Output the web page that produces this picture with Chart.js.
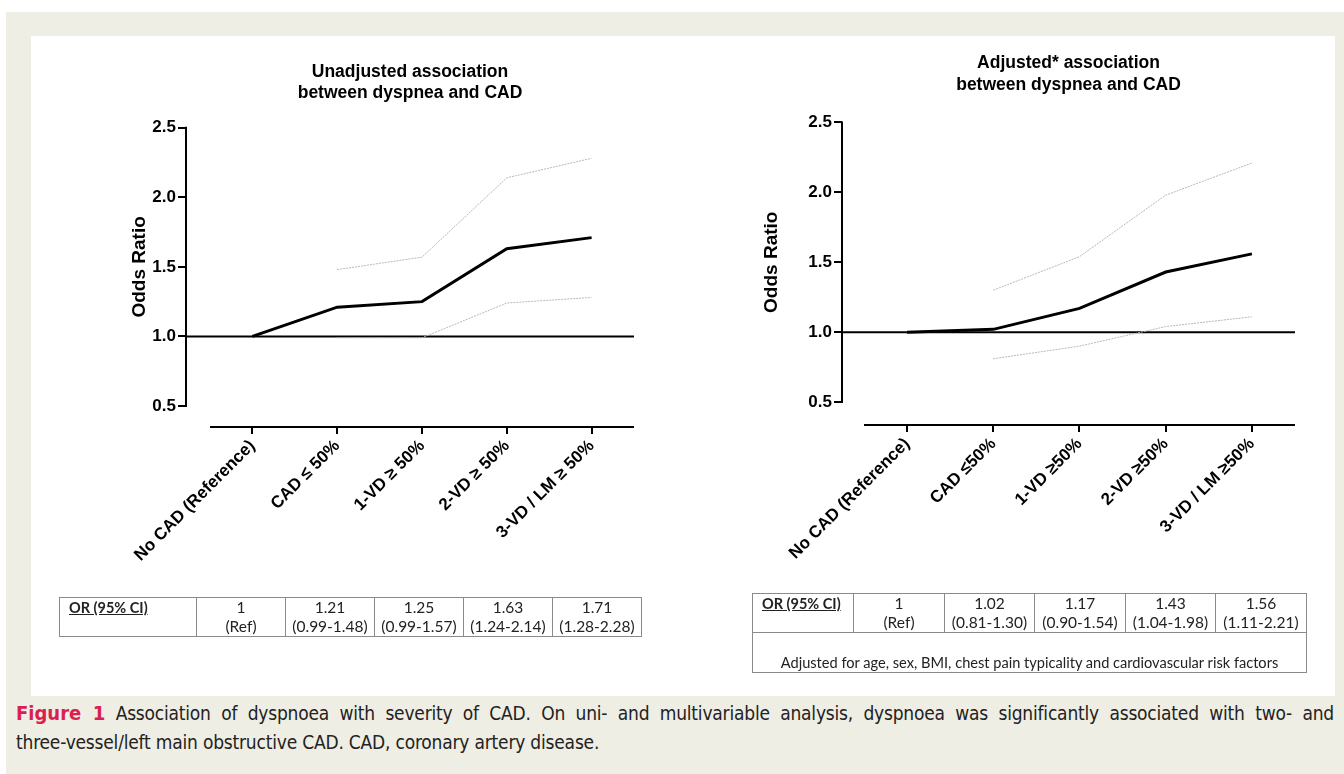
<!DOCTYPE html>
<html>
<head>
<meta charset="utf-8">
<script src="https://cdn.jsdelivr.net/npm/chart.js@4.4.1/dist/chart.umd.min.js"></script>
<style>
  html, body { margin: 0; padding: 0; background: #fff; }
  body { position: relative; width: 1344px; height: 774px; overflow: hidden; }
  .frame { position: absolute; left: 6px; top: 12px; width: 1338px; height: 762px; background: #efeee4; }
  .panel { position: absolute; left: 31px; top: 36px; width: 1304px; height: 660px; background: #fff; }
  canvas { position: absolute; }
  table.or {
    position: absolute; border-collapse: collapse; table-layout: fixed;
    font-family: Lato, "Open Sans", sans-serif; font-size: 15.5px; color: #222;
  }
  table.or td { border: 1px solid #8a8a8a; padding: 0; text-align: center; line-height: 19px; vertical-align: top; }
  table.or td.head { text-align: left; padding-left: 9px; font-weight: bold; text-decoration: underline; font-size: 14.5px; }
  table.or td.note { text-align: center; vertical-align: bottom; height: 39px; font-size: 14.6px; }
  .caption {
    position: absolute; left: 16px; top: 699px; width: 1318px;
    font-family: "Liberation Sans Narrow", "DejaVu Sans Condensed", "Open Sans", sans-serif;
    font-size: 19px; line-height: 29px; color: #222; white-space: nowrap; letter-spacing: -0.2px;
  }
  .caption .l1 { text-align: justify; text-align-last: justify; }
  .caption .fig { color: #d9214f; font-weight: bold; font-size: 20px; letter-spacing: 0; }
</style>
</head>
<body>
<div class="frame"></div>
<div class="panel"></div>
<canvas id="cUnadj" width="620" height="560" style="left:40px;top:40px"></canvas>
<canvas id="cAdj" width="630" height="570" style="left:700px;top:30px"></canvas>
<table class="or" id="tUnadj" style="left:59px;top:597px"></table>
<table class="or" id="tAdj" style="left:752px;top:593px"></table>
<div class="caption">
  <div class="l1"><span class="fig">Figure 1</span> Association of dyspnoea with severity of CAD. On uni- and multivariable analysis, dyspnoea was significantly associated with two- and</div>
  <div>three-vessel/left main obstructive CAD. CAD, coronary artery disease.</div>
</div>

<script>
// ── Dados ──────────────────────────────────────────────────────
const CATS_UNADJ = ['No CAD (Reference)', 'CAD \u2264 50%', '1-VD \u2265 50%', '2-VD \u2265 50%', '3-VD / LM \u2265 50%'];
const OR_UNADJ   = [1, 1.21, 1.25, 1.63, 1.71];
const LOW_UNADJ  = [null, 0.99, 0.99, 1.24, 1.28];
const HIGH_UNADJ = [null, 1.48, 1.57, 2.14, 2.28];

const CATS_ADJ = ['No CAD (Reference)', 'CAD \u226450%', '1-VD \u226550%', '2-VD \u226550%', '3-VD / LM \u226550%'];
const OR_ADJ   = [1, 1.02, 1.17, 1.43, 1.56];
const LOW_ADJ  = [null, 0.81, 0.90, 1.04, 1.11];
const HIGH_ADJ = [null, 1.30, 1.54, 1.98, 2.21];

const Y_TICKS = [0.5, 1.0, 1.5, 2.0, 2.5];
const REF_OR = 1;
const ADJ_NOTE = 'Adjusted for age, sex, BMI, chest pain typicality and cardiovascular risk factors';

Chart.defaults.font.family = '"Liberation Sans", Arial, sans-serif';
Chart.defaults.color = '#000';

// GraphPad-style axes: detached y/x axis lines, reference line, y title
const gpAxes = {
  id: 'gpAxes',
  beforeDatasetsDraw(chart, args, opts) {
    const { ctx, chartArea: a, scales: { x, y } } = chart;
    const n = opts.count;
    ctx.save();
    ctx.strokeStyle = '#000';
    ctx.lineWidth = 2;
    ctx.beginPath();
    ctx.moveTo(a.left, y.getPixelForValue(Y_TICKS[0]) + 1);
    ctx.lineTo(a.left, y.getPixelForValue(Y_TICKS[Y_TICKS.length - 1]) - 1);
    ctx.moveTo(x.getPixelForValue(-0.5), a.bottom);
    ctx.lineTo(x.getPixelForValue(n - 0.5), a.bottom);
    ctx.moveTo(a.left, y.getPixelForValue(REF_OR));
    ctx.lineTo(a.right, y.getPixelForValue(REF_OR));
    ctx.stroke();

    ctx.translate(opts.titleX, y.getPixelForValue((Y_TICKS[0] + Y_TICKS[Y_TICKS.length - 1]) / 2));
    ctx.rotate(-Math.PI / 2);
    ctx.font = 'bold 19px "Liberation Sans", Arial, sans-serif';
    ctx.fillStyle = '#000';
    ctx.textAlign = 'center';
    ctx.textBaseline = 'middle';
    ctx.fillText('Odds Ratio', 0, 0);
    ctx.restore();
  }
};

const pts = arr => arr.map((v, i) => ({ x: i, y: v }));

const makeChart = (id, cfg) => {
  const ctx = document.getElementById(id).getContext('2d');
  return new Chart(ctx, {
    type: 'line',
    data: {
      datasets: [
        { data: pts(cfg.or), borderColor: '#000', borderWidth: 3 },
        { data: pts(cfg.high), borderColor: '#b8b8b8', borderWidth: 1, borderDash: [2, 1] },
        { data: pts(cfg.low), borderColor: '#b8b8b8', borderWidth: 1, borderDash: [2, 1] }
      ]
    },
    options: {
      responsive: false,
      animation: false,
      spanGaps: false,
      elements: { point: { radius: 0 }, line: { tension: 0 } },
      layout: { padding: { left: 0, right: cfg.padRight, top: 0, bottom: 0 } },
      plugins: {
        legend: { display: false },
        tooltip: { enabled: false },
        title: {
          display: true,
          text: cfg.title,
          fullSize: false,
          color: '#000',
          font: { size: 17.5, weight: 'bold', lineHeight: cfg.titleLH },
          padding: cfg.titlePad
        },
        gpAxes: { count: cfg.cats.length, titleX: cfg.yTitleX }
      },
      scales: {
        x: {
          type: 'linear',
          min: cfg.xMin,
          max: cfg.cats.length - 0.5,
          border: { display: false },
          grid: { drawOnChartArea: false, drawTicks: true, tickLength: 7, lineWidth: 2, color: '#000' },
          afterBuildTicks: s => { s.ticks = cfg.cats.map((_, i) => ({ value: i })); },
          afterFit: s => { s.height = cfg.xHeight; },
          ticks: {
            autoSkip: false, minRotation: 45, maxRotation: 45, padding: 2,
            font: { size: 17, weight: 'bold' },
            callback: v => cfg.cats[v] ?? ''
          }
        },
        y: {
          min: cfg.yMin,
          max: Y_TICKS[Y_TICKS.length - 1],
          border: { display: false },
          grid: { drawOnChartArea: false, drawTicks: true, tickLength: 8, lineWidth: 2, color: '#000' },
          afterBuildTicks: s => { s.ticks = Y_TICKS.map(v => ({ value: v })); },
          afterFit: s => { s.width = cfg.yWidth; },
          ticks: {
            padding: 2,
            font: { size: 17, weight: 'bold' },
            callback: v => v.toFixed(1)
          }
        }
      }
    },
    plugins: [gpAxes]
  });
};

makeChart('cUnadj', {
  cats: CATS_UNADJ, or: OR_UNADJ, low: LOW_UNADJ, high: HIGH_UNADJ,
  title: ['Unadjusted association', 'between dyspnea and CAD'],
  titleLH: 1.22, titlePad: { top: 21, bottom: 24 },
  xMin: -0.783, yMin: 0.349, yWidth: 146, xHeight: 173, padRight: 26, yTitleX: 100
});

makeChart('cAdj', {
  cats: CATS_ADJ, or: OR_ADJ, low: LOW_ADJ, high: HIGH_ADJ,
  title: ['Adjusted* association', 'between dyspnea and CAD'],
  titleLH: 1.27, titlePad: { top: 22, bottom: 26 },
  xMin: -0.755, yMin: 0.336, yWidth: 142, xHeight: 175, padRight: 35, yTitleX: 72
});

// ── Tabelas OR (95% CI) ────────────────────────────────────────
const fmt = v => v.toFixed(2);
const buildTable = (id, or, low, high, widths, note) => {
  const t = document.getElementById(id);
  const cg = widths.map(w => `<col style="width:${w}px">`).join('');
  const cells = or.map((v, i) => low[i] == null
    ? `<td>${v}<br>(Ref)</td>`
    : `<td>${fmt(v)}<br>(${fmt(low[i])}-${fmt(high[i])})</td>`).join('');
  let html = `<colgroup>${cg}</colgroup><tr style="height:39px"><td class="head">OR (95% CI)</td>${cells}</tr>`;
  if (note) html += `<tr><td class="note" colspan="${widths.length}">${note}</td></tr>`;
  t.innerHTML = html;
  t.style.width = widths.reduce((s, w) => s + w, 0) + 'px';
};

buildTable('tUnadj', OR_UNADJ, LOW_UNADJ, HIGH_UNADJ, [137, 89, 89, 89, 89, 89]);
buildTable('tAdj', OR_ADJ, LOW_ADJ, HIGH_ADJ, [101, 91, 90, 91, 90, 91], ADJ_NOTE);
</script>
</body>
</html>
